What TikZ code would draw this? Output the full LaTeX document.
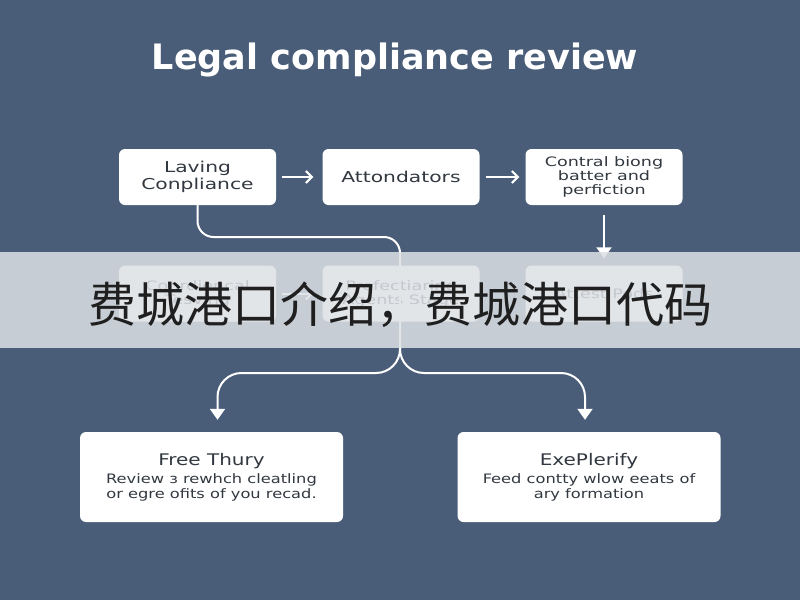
\documentclass[tikz,border=0pt]{standalone}
\usepackage{fontspec}
\setmainfont{DejaVu Sans}
\newfontfamily\boxfont[FakeStretch=1.35]{DejaVu Sans}
\newfontfamily\cardfont[FakeStretch=1.25]{DejaVu Sans}
\newfontfamily\cjk{Noto Sans CJK SC}
\usetikzlibrary{arrows.meta,positioning}
\definecolor{slate}{RGB}{73,93,120}
\definecolor{ink}{RGB}{50,56,64}
\definecolor{veil}{RGB}{222,225,229}

\begin{document}
\begin{tikzpicture}[x=1pt,y=-1pt,
	box/.style={fill=white,rounded corners=6pt,minimum width=157pt,minimum height=56pt,
		align=center,text=ink,font=\boxfont\fontsize{13}{14}\selectfont},
	wide/.style={box,minimum width=263pt,minimum height=90pt,font=\cardfont\fontsize{13}{15}\selectfont},
	link/.style={draw=white,line width=2pt},
	tip/.style={-{Triangle[width=15pt,length=11pt]}},
	barb/.style={-{Straight Barb[width=12pt,length=6pt,line width=2pt]}}]
	\fill[slate] (0,0) rectangle (800,600);
	\node[text=white,font=\bfseries\fontsize{35}{35}\selectfont] (title) at (395,60) {Legal compliance review};
	\node[box,font=\boxfont\fontsize{15}{17}\selectfont] (lc) at (197.5,177) {Laving\\Conpliance};
	\node[box,font=\boxfont\fontsize{15}{17}\selectfont] (att) at (401,177) {Attondators};
	\node[box] (cb) at (604,177) {Contral biong\\batter and\\perfiction};
	\node[box] (cr) at (197.5,293.5) {Conrdiencal\\Tesving};
	\node[box] (pr) at (401,293.5) {Profectiaring\\Agents Stage};
	\node[box] (ap) at (604,293.5) {Attest Pods};
	\node[wide] (ft) at (211.5,477) {{\fontsize{16}{20}\selectfont Free Thury}\\[3pt]Review з rewhch cleatling\\or egre ofits of you recad.};
	\node[wide] (ep) at (589,477) {{\fontsize{16}{20}\selectfont ExePlerify}\\[3pt]Feed contty wlow eeats of\\ary formation};
	\coordinate (split) at (400,345);
	\draw[link,barb,shorten <=6pt,shorten >=9pt] (lc) -- (att);
	\draw[link,barb,shorten <=6pt,shorten >=6pt] (att) -- (cb);
	\draw[link,barb,shorten <=6pt,shorten >=9pt] (cr) -- (pr);
	\draw[link,tip,shorten <=10pt,shorten >=7pt] (cb) -- (ap);
	\draw[link,rounded corners=16pt] (lc.south) |- (400,237) -- (split);
	\draw[link,tip,rounded corners=24pt,shorten >=12pt] (split) -- (400,373) -| ([xshift=6pt]ft.north);
	\draw[link,tip,rounded corners=24pt,shorten >=12pt] (split) -- (400,373) -| ([xshift=-4pt]ep.north);
	\fill[veil,opacity=0.85] (0,252) rectangle (800,348);
	\node[font=\cjk\fontsize{48}{48}\selectfont,text=black!88] (banner) at (400,305) {费城港口介绍，费城港口代码};
\end{tikzpicture}
\end{document}
